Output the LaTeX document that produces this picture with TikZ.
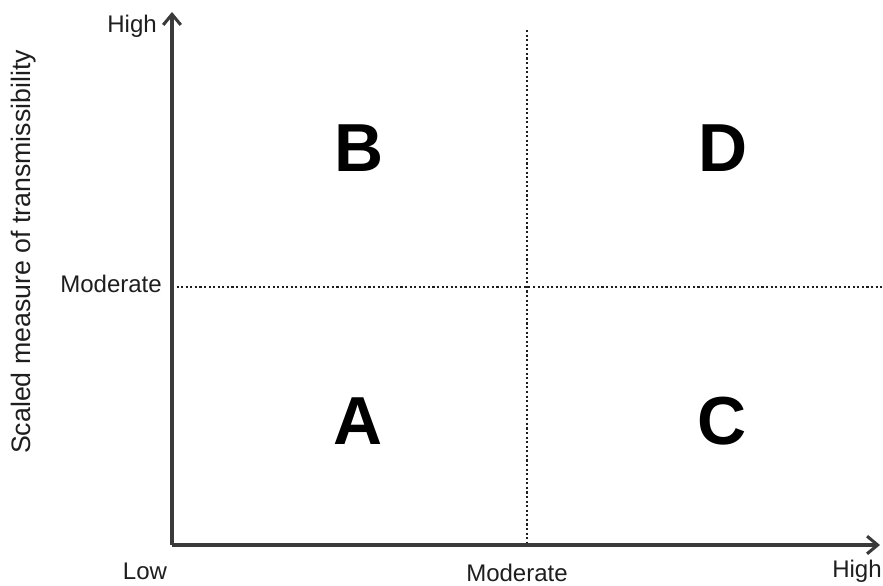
\documentclass[tikz,border=0pt]{standalone}
\usepackage{fontspec}
\setmainfont{Liberation Sans}
\usetikzlibrary{arrows.meta}
\definecolor{axisgray}{HTML}{3A3A3A}
\definecolor{textgray}{HTML}{1E1E1E}
\pgfdeclarelayer{edgelayer}
\pgfdeclarelayer{nodelayer}
\pgfsetlayers{edgelayer,nodelayer,main}
\tikzstyle{axis}=[draw=axisgray, line width=2.9pt, -{Straight Barb[length=9pt, width=15pt, line width=2.6pt]}]
\tikzstyle{cut}=[draw=textgray, line width=1.8pt, dash pattern=on 1.8pt off 2.1pt]
\tikzstyle{tick}=[text=textgray, font=\fontsize{20.5}{24}\selectfont, inner sep=0pt, anchor=base]
\tikzstyle{quad}=[text=black, font=\fontsize{58}{64}\selectfont\bfseries, inner sep=0pt]

\begin{document}
\begin{tikzpicture}
			\useasboundingbox (0, 0) rectangle (26.49, 17.58);
			\begin{pgfonlayer}{nodelayer}
			\coordinate (o) at (5.16, 1.23);
			\coordinate (ytop) at (5.16, 17.22);
			\coordinate (xend) at (26.4, 1.23);
			\coordinate (vtop) at (15.81, 16.68);
			\coordinate (vbot) at (15.81, 1.23);
			\coordinate (hleft) at (5.16, 8.97);
			\coordinate (hright) at (26.46, 8.97);
			\node [style=tick, anchor=base east] (yhigh) at (4.71, 16.59) {High};
			\node [style=tick, anchor=base east] (ymod) at (4.86, 8.79) {Moderate};
			\node [style=tick] (xlow) at (4.35, 0.18) {Low};
			\node [style=tick] (xmod) at (15.51, 0.13) {Moderate};
			\node [style=tick] (xhigh) at (25.71, 0.24) {High};
			\node [style=tick, rotate=90, font=\fontsize{22.8}{26}\selectfont] (ylabel) at (0.9, 10.02) {Scaled measure of transmissibility};
			\node [style=quad] (B) at (10.77, 13.14) {B};
			\node [style=quad] (D) at (21.69, 13.14) {D};
			\node [style=quad] (A) at (10.74, 4.95) {A};
			\node [style=quad] (C) at (21.66, 4.95) {C};
			\end{pgfonlayer}
			\begin{pgfonlayer}{edgelayer}
			\draw [style=cut] (vtop) to (vbot);
			\draw [style=cut] (hleft) to (hright);
			\draw [style=axis] (o) to (ytop);
			\draw [style=axis] (o) to (xend);
			\end{pgfonlayer}
			\end{tikzpicture}
\end{document}
